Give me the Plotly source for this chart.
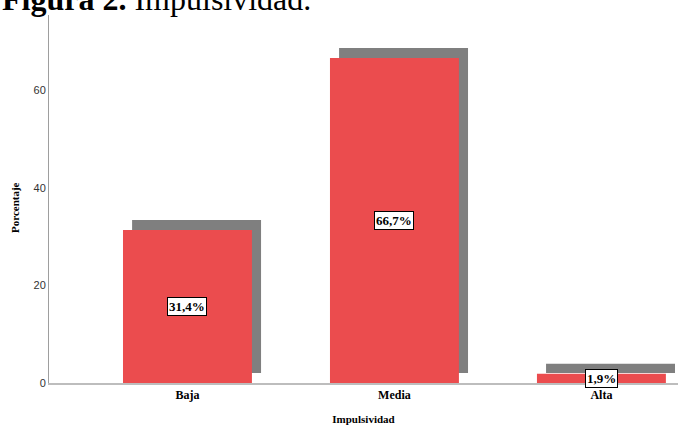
import plotly.graph_objects as go

categories = ["Baja", "Media", "Alta"]
values = [31.4, 66.7, 1.9]
labels = ["31,4%", "66,7%", "1,9%"]
y_ticks = [0, 20, 40, 60]

RED = "#EB4C4E"
GRAY = "#7F7F7F"
bar_w = 0.623
sh_dx = 0.044
sh_dy = 2.05

x_idx = list(range(len(categories)))

fig = go.Figure()
# shadow bars
fig.add_trace(go.Bar(
    x=x_idx, y=values, base=[sh_dy] * len(values),
    width=bar_w, offset=-bar_w / 2 + sh_dx,
    marker=dict(color=GRAY, line=dict(width=0)),
    hoverinfo="skip", showlegend=False,
))
# main bars
fig.add_trace(go.Bar(
    x=x_idx, y=values, width=bar_w, offset=-bar_w / 2,
    marker=dict(color=RED, line=dict(width=0)),
    showlegend=False,
))
fig.update_layout(barmode="overlay")

for i, (v, lab) in enumerate(zip(values, labels)):
    fig.add_annotation(
        x=i, y=v / 2, xref="x", yref="y", text=f"<b>{lab}</b>",
        showarrow=False, bgcolor="white", bordercolor="black",
        borderwidth=1, borderpad=1,
        font=dict(family="Liberation Serif", size=13, color="black"),
    )

fig.add_annotation(
    x=-49 / 629, y=0.988, xref="paper", yref="paper",
    xanchor="left", yanchor="bottom", showarrow=False,
    text="<b>Figura 2.</b> Impulsividad.",
    font=dict(family="Liberation Serif", size=32, color="black"),
)

# y-axis title placed like the reference (slightly below axis centre)
fig.add_annotation(
    x=-34 / 629, y=0.4755, xref="paper", yref="paper",
    xanchor="center", yanchor="middle", showarrow=False, textangle=-90,
    text="<b>Porcentaje</b>",
    font=dict(family="Liberation Serif", size=11, color="black"),
)

fig.update_layout(
    width=678, height=425,
    margin=dict(l=49, r=0, t=15, b=42, autoexpand=False),
    paper_bgcolor="white", plot_bgcolor="white",
    xaxis=dict(
        range=[-0.669, 2.37],
        tickmode="array", tickvals=x_idx,
        ticktext=[f"<b>{c}</b>" for c in categories],
        tickfont=dict(family="Liberation Serif", size=12, color="black"),
        showgrid=False, zeroline=False,
        showline=True, linecolor="#BDBDBD", linewidth=1.5,
        ticks="", ticklen=0, automargin=False,
        title=dict(text="<b>Impulsividad</b>", standoff=14,
                   font=dict(family="Liberation Serif", size=11, color="black")),
    ),
    yaxis=dict(
        range=[0, 75.5],
        tickmode="array", tickvals=y_ticks,
        tickfont=dict(family="Liberation Sans", size=11, color="#333333"),
        showgrid=False, zeroline=False,
        showline=True, linecolor="#9E9E9E", linewidth=1,
        ticks="", ticklen=0, automargin=False,
    ),
)

fig.write_html("out.html", config={"displayModeBar": False},
               post_script="document.body.style.margin='0';")
